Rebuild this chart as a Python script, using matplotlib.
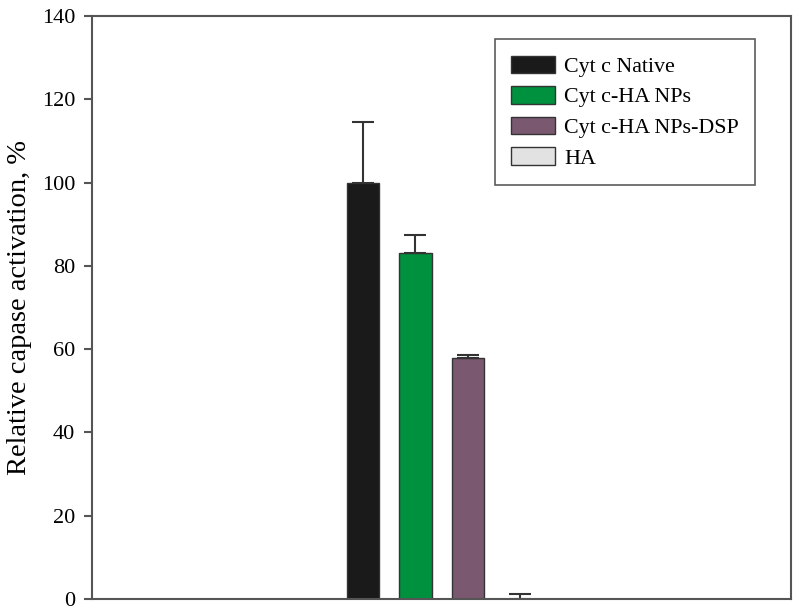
import matplotlib
matplotlib.use("Agg")
import matplotlib.pyplot as plt
from matplotlib.patches import Patch

labels = ["Cyt c Native", "Cyt c-HA NPs", "Cyt c-HA NPs-DSP", "HA"]
values = [100.0, 83.0, 57.8, 0.0]
errors = [14.6, 4.5, 0.9, 1.2]
colors = ["#1a1a1a", "#00913f", "#7a5870", "#e2e2e2"]

plt.rcParams["font.family"] = ["Liberation Serif", "DejaVu Serif"]

fig = plt.figure(figsize=(8, 6.14), dpi=100)
ax = fig.add_axes([0.115, 0.0244, 0.874, 0.9495])

xs = list(range(len(values)))
# one-sided (upper) error bars only
ax.bar(xs, values, width=0.615, color=colors, edgecolor="#333333", linewidth=1.0,
       yerr=[[0] * len(errors), errors],
       error_kw=dict(ecolor="#333333", elinewidth=1.5, capsize=8, capthick=1.5))

ax.set_xlim(-5.18, 8.18)
ax.set_ylim(0, 140)
ax.set_yticks(range(0, 141, 20))
ax.set_xticks([])
ax.tick_params(axis="y", direction="out", length=6, width=1.5, color="#555555",
               labelsize=16, pad=6)
for s in ax.spines.values():
    s.set_color("#555555")
    s.set_linewidth(1.5)
ax.set_ylabel("Relative capase activation, %", fontsize=20.5, labelpad=7)

handles = [Patch(facecolor=c, edgecolor="#333333", label=l) for c, l in zip(colors, labels)]
leg = ax.legend(handles=handles, loc="upper right", bbox_to_anchor=(0.9485, 0.9605),
                fontsize=15.8, frameon=True, fancybox=False, edgecolor="#333333",
                handlelength=2.0, handleheight=0.85, handletextpad=0.4,
                borderpad=0.75, labelspacing=0.42, borderaxespad=0)
leg.get_frame().set_linewidth(1.2)

fig.savefig("out.png", dpi=100)
